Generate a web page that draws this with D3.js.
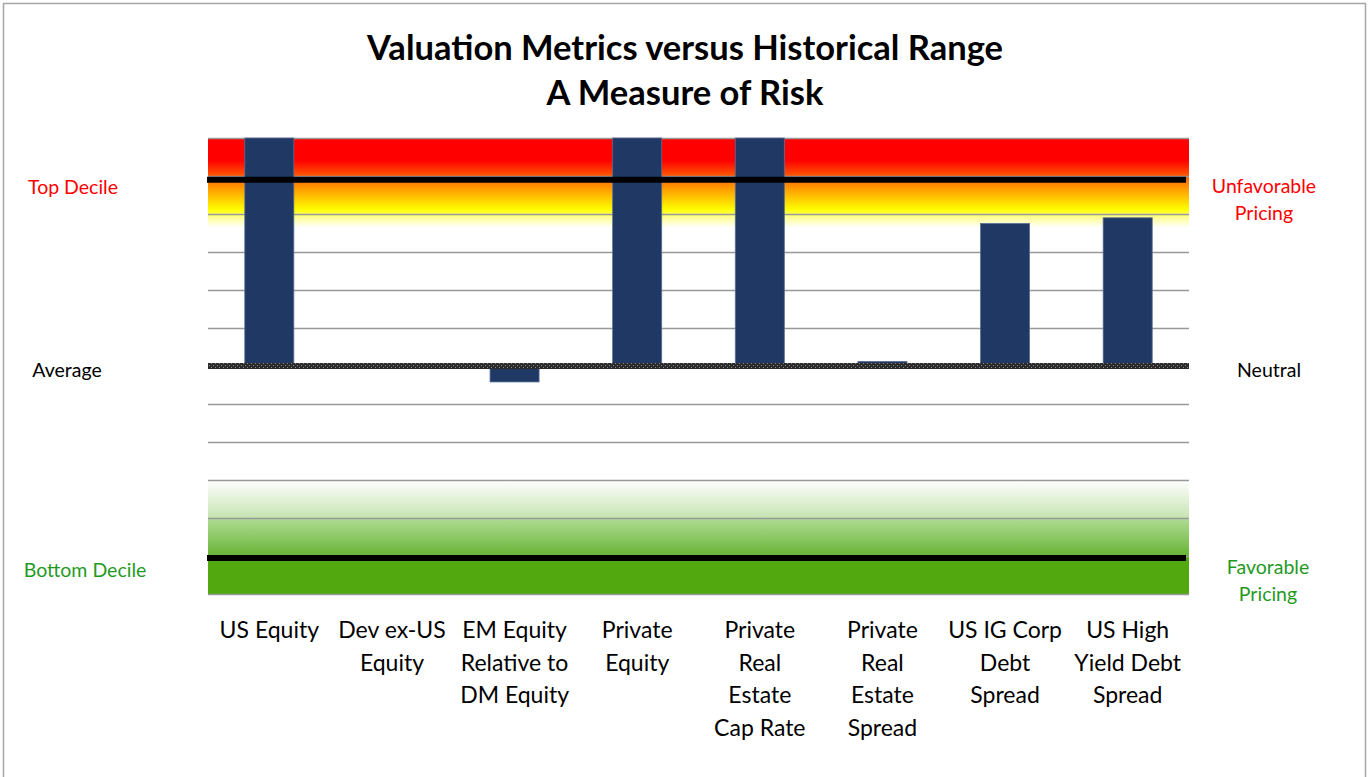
<!DOCTYPE html>
<html>
<head>
<meta charset="utf-8">
<script src="https://cdn.jsdelivr.net/npm/d3@7"></script>
<style>
  body { margin: 0; background: #fff; }
  svg { display: block; font-family: Lato, "Open Sans", sans-serif; }
</style>
</head>
<body>
<div id="chart"></div>
<script>
// data (units = deciles-ish, 0 = historical average)
const categories = ['US Equity', 'Dev ex-US\nEquity', 'EM Equity\nRelative to\nDM Equity', 'Private\nEquity',
  'Private\nReal\nEstate\nCap Rate', 'Private\nReal\nEstate\nSpread', 'US IG Corp\nDebt\nSpread', 'US High\nYield Debt\nSpread'];
const values = [6, 0, -0.42, 6, 6, 0.12, 3.75, 3.9];
const topDecile = 4.9;
const bottomDecile = -5.05;
const yDomain = [-6, 6];

const w = 1369, h = 777;
const padL = 208, padR = 1189, padT = 138, padB = 594;

const svg = d3.select('#chart').append('svg').attr('width', w).attr('height', h);
const defs = svg.append('defs');

// outer frame
svg.append('rect').attr('x', 3.5).attr('y', 3.5).attr('width', 1362).attr('height', 800)
  .attr('fill', 'none').attr('stroke', '#a6a6a6').attr('stroke-width', 1.5);

const x = d3.scaleBand().domain(categories).range([padL, padR]).paddingInner(0.6).paddingOuter(0.3);
const y = d3.scaleLinear().domain(yDomain).range([padB, padT]);

// gradients
const red = defs.append('linearGradient').attr('id', 'redBand').attr('x1', 0).attr('x2', 0).attr('y1', 0).attr('y2', 1);
[[0, '#ff0000'], [0.25, '#ff0000'], [0.5, '#ff8000'], [0.8, '#ffff00'], [0.88, '#ffff90'], [1, '#ffffff']]
  .forEach(s => red.append('stop').attr('offset', s[0]).attr('stop-color', s[1]));
const green = defs.append('linearGradient').attr('id', 'greenBand').attr('x1', 0).attr('x2', 0).attr('y1', 0).attr('y2', 1);
[[0, '#ffffff'], [0.45, '#c9e5b5'], [0.5, '#acd98f'], [0.95, '#66b333'], [1, '#52a80f']]
  .forEach(s => green.append('stop').attr('offset', s[0]).attr('stop-color', s[1]));

const pat = defs.append('pattern').attr('id', 'avgPat').attr('width', 4).attr('height', 4).attr('patternUnits', 'userSpaceOnUse');
pat.append('rect').attr('width', 4).attr('height', 4).attr('fill', '#2b2b2b');
pat.append('rect').attr('x', 1).attr('y', 1).attr('width', 1).attr('height', 1).attr('fill', '#8a8a8a');
pat.append('rect').attr('x', 3).attr('y', 3).attr('width', 1).attr('height', 1).attr('fill', '#8a8a8a');

// bands
svg.append('rect').attr('x', padL).attr('y', y(6)).attr('width', padR - padL).attr('height', y(3.64) - y(6))
  .attr('fill', 'url(#redBand)');
svg.append('rect').attr('x', padL).attr('y', y(-3)).attr('width', padR - padL).attr('height', y(bottomDecile) - y(-3) + 3)
  .attr('fill', 'url(#greenBand)');
svg.append('rect').attr('x', padL).attr('y', y(bottomDecile)).attr('width', padR - padL).attr('height', y(-6) - y(bottomDecile))
  .attr('fill', '#52a80f');

// gridlines
const grid = svg.append('g').attr('transform', 'translate(' + padL + ',0)')
  .call(d3.axisLeft(y).ticks(12).tickSize(-(padR - padL)).tickFormat(''));
grid.select('.domain').remove();
grid.selectAll('line').attr('stroke', '#999').attr('stroke-width', 1.5);

// bars
svg.selectAll('.bar').data(values).enter().append('rect').attr('class', 'bar')
  .attr('x', (d, i) => x(categories[i]))
  .attr('width', x.bandwidth())
  .attr('y', d => y(Math.max(0, d)))
  .attr('height', d => Math.abs(y(d) - y(0)))
  .attr('fill', '#203864').attr('stroke', '#5a6e94').attr('stroke-width', 0.8);

// reference lines
[topDecile, bottomDecile].forEach(v => {
  svg.append('line').attr('x1', padL - 1).attr('x2', padR - 3).attr('y1', y(v)).attr('y2', y(v))
    .attr('stroke', '#000').attr('stroke-width', 6);
});
svg.append('rect').attr('x', padL).attr('y', y(0) - 3).attr('width', padR - padL).attr('height', 6)
  .attr('fill', 'url(#avgPat)');

// category labels
const lab = svg.append('g').selectAll('text').data(categories).enter().append('text')
  .attr('text-anchor', 'middle').attr('font-size', 23).attr('fill', '#000')
  .attr('transform', d => 'translate(' + (x(d) + x.bandwidth() / 2) + ',638)');
lab.selectAll('tspan').data(d => d.split('\n')).enter().append('tspan')
  .attr('x', 0).attr('dy', (d, i) => i === 0 ? 0 : 32.5).text(d => d);

// title
svg.append('text').attr('x', 685).attr('y', 60).attr('text-anchor', 'middle')
  .attr('font-size', 34.5).attr('font-weight', 'bold').text('Valuation Metrics versus Historical Range');
svg.append('text').attr('x', 685).attr('y', 105).attr('text-anchor', 'middle')
  .attr('font-size', 34.5).attr('font-weight', 'bold').text('A Measure of Risk');

// side labels
const sideLeft = [['Top Decile', 73, 194, '#ff0000'], ['Average', 67, 377, '#000'], ['Bottom Decile', 85, 577, '#1f9a1f']];
sideLeft.forEach(s => svg.append('text').attr('x', s[1]).attr('y', s[2]).attr('text-anchor', 'middle')
  .attr('font-size', 19.5).attr('fill', s[3]).text(s[0]));
const sideRight = [['Unfavorable', 1264, 193, '#ff0000'], ['Pricing', 1264, 220, '#ff0000'], ['Neutral', 1269, 377, '#000'],
  ['Favorable', 1268, 574, '#1f9a1f'], ['Pricing', 1268, 601, '#1f9a1f']];
sideRight.forEach(s => svg.append('text').attr('x', s[1]).attr('y', s[2]).attr('text-anchor', 'middle')
  .attr('font-size', 19.5).attr('fill', s[3]).text(s[0]));
</script>
</body>
</html>
